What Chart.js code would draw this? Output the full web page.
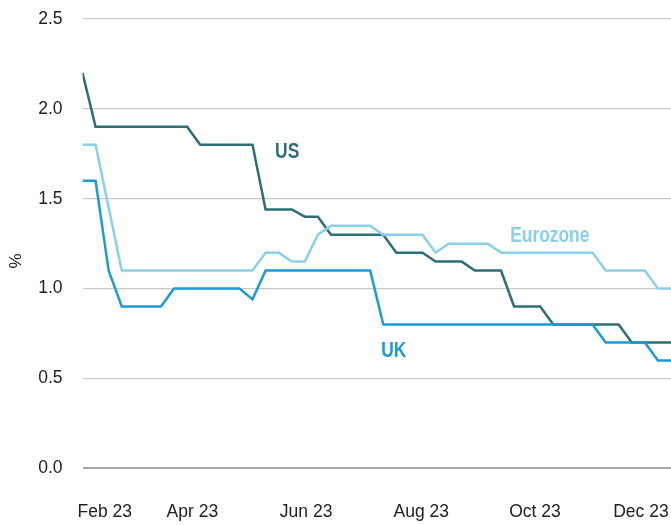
<html>
<head>
	<title>Policy rates</title>
	<meta charset="utf-8">
	<script src="https://cdn.jsdelivr.net/npm/chart.js"></script>
	<style>
		body { margin: 0; background: #fff; }
		#wrap { width: 671px; height: 525px; position: relative; }
	</style>
</head>
<body>
	<div id="wrap"><canvas id="myChart"></canvas></div>

	<script type="text/javascript">
		// weekly readings, Feb 23 -> Dec 23 (index 0..45)
		var ukValues = [1.6, 1.6, 1.1, 0.9, 0.9, 0.9, 0.9, 1.0, 1.0, 1.0, 1.0, 1.0, 1.0, 0.94,
			1.1, 1.1, 1.1, 1.1, 1.1, 1.1, 1.1, 1.1, 1.1,
			0.8, 0.8, 0.8, 0.8, 0.8, 0.8, 0.8, 0.8, 0.8, 0.8, 0.8, 0.8, 0.8, 0.8, 0.8, 0.8, 0.8,
			0.7, 0.7, 0.7, 0.7, 0.6, 0.6];
		var euroValues = [1.8, 1.8, 1.45, 1.1, 1.1, 1.1, 1.1, 1.1, 1.1, 1.1, 1.1, 1.1, 1.1, 1.1,
			1.2, 1.2, 1.15, 1.15, 1.3, 1.35, 1.35, 1.35, 1.35, 1.3, 1.3, 1.3, 1.3, 1.2,
			1.25, 1.25, 1.25, 1.25, 1.2, 1.2, 1.2, 1.2, 1.2, 1.2, 1.2, 1.2,
			1.1, 1.1, 1.1, 1.1, 1.0, 1.0];
		var usValues = [2.2, 1.9, 1.9, 1.9, 1.9, 1.9, 1.9, 1.9, 1.9, 1.8, 1.8, 1.8, 1.8, 1.8,
			1.44, 1.44, 1.44, 1.4, 1.4, 1.3, 1.3, 1.3, 1.3, 1.3, 1.2, 1.2, 1.2,
			1.15, 1.15, 1.15, 1.1, 1.1, 1.1, 0.9, 0.9, 0.9,
			0.8, 0.8, 0.8, 0.8, 0.8, 0.8, 0.7, 0.7, 0.7, 0.7];

		var tickPositions = [1.7, 8.4, 17.1, 25.9, 34.6, 42.7];
		var tickLabels = ["Feb 23", "Apr 23", "Jun 23", "Aug 23", "Oct 23", "Dec 23"];

		var seriesNames = ["UK", "Eurozone", "US"];
		var seriesColors = ["#1e9bd7", "#8ad0e8", "#2e6e76"];
		var labelSpots = [
			{text: "UK", x: 23.8, y: 0.657, color: "#1e9bd7"},
			{text: "Eurozone", x: 35.73, y: 1.30, color: "#8ad0e8"},
			{text: "US", x: 15.65, y: 1.768, color: "#2e6e76"}
		];

		var tickFont = '"Liberation Sans", Arial, sans-serif';

		function toPoints(arr) {
			return arr.map(function(v, i) { return {x: i, y: v}; });
		}

		var seriesLabels = {
			id: 'seriesLabels',
			afterDatasetsDraw: function(chart) {
				var ctx = chart.ctx;
				var xs = chart.scales.x, ys = chart.scales.y;
				ctx.save();
				ctx.font = 'bold 22px ' + tickFont;
				ctx.textAlign = 'center';
				ctx.textBaseline = 'middle';
				labelSpots.forEach(function(l) {
					ctx.save();
					ctx.translate(xs.getPixelForValue(l.x), ys.getPixelForValue(l.y));
					ctx.scale(0.79, 1); // condensed look
					ctx.fillStyle = l.color;
					ctx.fillText(l.text, 0, 1);
					ctx.restore();
				});
				// axis unit
				ctx.translate(16, 261);
				ctx.rotate(-Math.PI / 2);
				ctx.fillStyle = '#222';
				ctx.font = '17px ' + tickFont;
				ctx.fillText('%', 0, 0);
				ctx.restore();
			}
		};

		var ctx = document.getElementById('myChart').getContext('2d');
		var myChart = new Chart(ctx, {
			type: 'line',
			data: {
				datasets: [
					{label: seriesNames[0], data: toPoints(ukValues), borderColor: seriesColors[0]},
					{label: seriesNames[1], data: toPoints(euroValues), borderColor: seriesColors[1]},
					{label: seriesNames[2], data: toPoints(usValues), borderColor: seriesColors[2]}
				]
			},
			options: {
				responsive: true,
				maintainAspectRatio: false,
				animation: false,
				layout: { padding: { top: 19, right: 0, bottom: 0, left: 0 } },
				elements: {
					line: { borderWidth: 2.5, tension: 0, fill: false },
					point: { radius: 0 }
				},
				plugins: {
					legend: { display: false },
					tooltip: { enabled: false }
				},
				scales: {
					x: {
						type: 'linear',
						min: 0,
						max: 45,
						grid: { display: false, drawTicks: false },
						border: { display: false },
						afterBuildTicks: function(scale) {
							scale.ticks = tickPositions.map(function(v) { return {value: v}; });
						},
						afterFit: function(scale) {
							scale.height = 56.7;
							scale.paddingLeft = 0;
							scale.paddingRight = 0;
						},
						ticks: {
							autoSkip: false,
							maxRotation: 0,
							padding: 33,
							color: '#222',
							font: { family: tickFont, size: 17.5 },
							callback: function(value, index) { return tickLabels[index]; }
						}
					},
					y: {
						min: 0,
						max: 2.5,
						afterFit: function(scale) {
							scale.width = 82.5;
							scale.paddingTop = 0;
							scale.paddingBottom = 0;
						},
						grid: {
							drawTicks: false,
							color: function(c) { return c.tick.value === 0 ? '#a8a8a8' : '#c8c8c8'; },
							lineWidth: function(c) { return c.tick.value === 0 ? 2 : 1.2; }
						},
						border: { display: false },
						ticks: {
							stepSize: 0.5,
							padding: 20,
							color: '#222',
							font: { family: tickFont, size: 17.5 },
							callback: function(v) { return v.toFixed(1); }
						}
					}
				}
			},
			plugins: [seriesLabels]
		});
	</script>
</body>
</html>
